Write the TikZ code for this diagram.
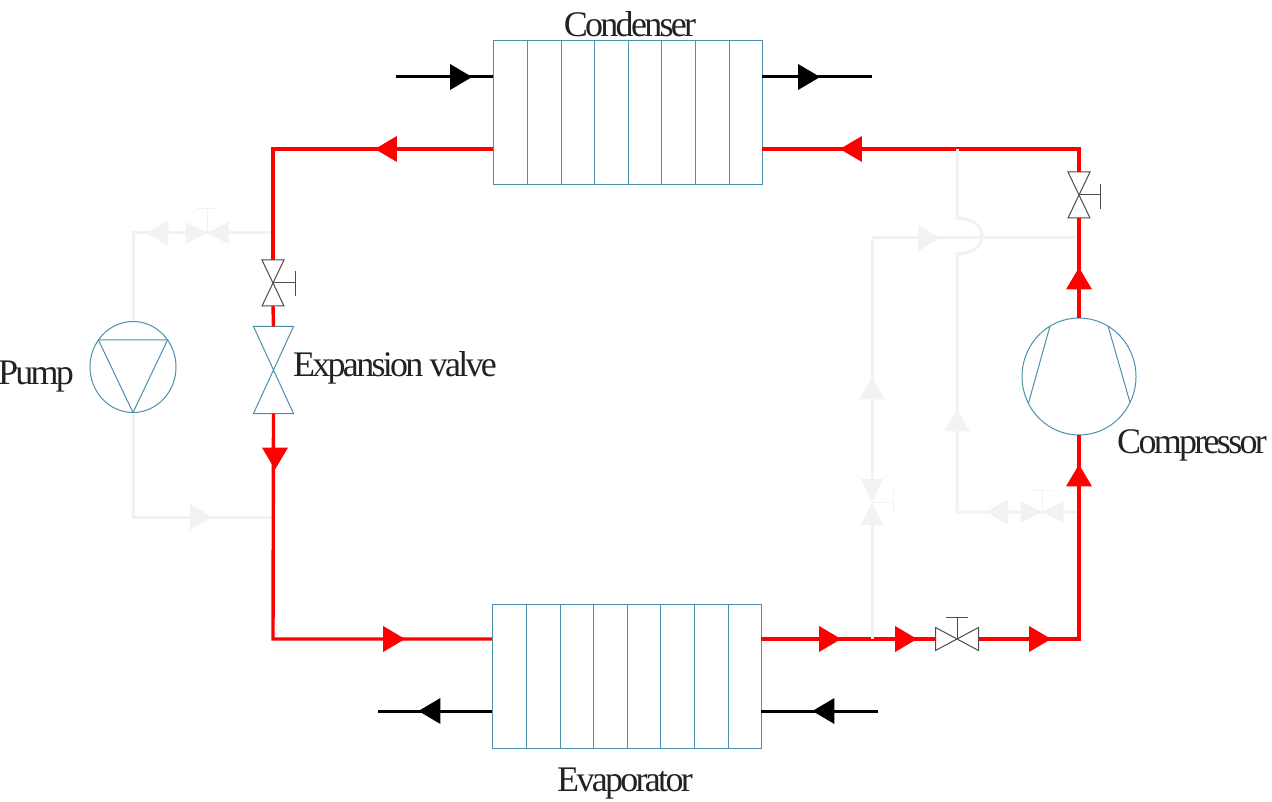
\documentclass[tikz,border=0pt]{standalone}
\usepackage{fontspec}
\setmainfont{Liberation Serif}
\usetikzlibrary{shapes.geometric}
\definecolor{unitcolor}{HTML}{4A90AC}
\definecolor{idlecolor}{HTML}{F2F2F2}
\definecolor{lettercolor}{HTML}{222222}
\tikzset{
	exchanger/.style={
		rectangle,
		draw=unitcolor,
		line width=1pt,
		outer sep=0pt,
		minimum width=269,
		minimum height=144
	},
	machine/.style={
		ellipse,
		draw=unitcolor,
		line width=1pt,
		inner sep=0pt,
		outer sep=0pt
	},
	valvebox/.style={
		rectangle,
		inner sep=0pt,
		outer sep=0pt
	},
	hpipe/.style={
		draw=red,
		line width=3.4pt,
		line join=miter
	},
	kpipe/.style={
		draw=black,
		line width=3pt
	},
	idlepipe/.style={
		draw=idlecolor,
		line width=3pt
	},
	flow/.style={
		isosceles triangle,
		isosceles triangle stretches,
		inner sep=0pt,
		outer sep=0pt,
		minimum height=22,
		minimum width=26,
		fill=#1
	},
	label/.style={
		text=lettercolor,
		font=\fontsize{36}{36}\selectfont\addfontfeature{LetterSpace=-7.5}
	},
}
% bow tie between the corners of a valve box
\newcommand{\bowv}[1]{(#1.north west) -- (#1.south east) -- (#1.south west) -- (#1.north east) -- cycle}
\newcommand{\bowh}[1]{(#1.north west) -- (#1.south east) -- (#1.north east) -- (#1.south west) -- cycle}
\begin{document}
\begin{tikzpicture}[x=1pt,y=-1pt]
	\useasboundingbox (0,0) rectangle (1272,802);

	% units
	\node (condenser) [exchanger] at (627.5,113) {};
	\node (evaporator) [exchanger] at (626.5,676) {};
	\foreach \x in {34,68,101,135,168,202,236} {
		\draw [unitcolor,line width=1pt] ([xshift=\x]condenser.north west) -- ([xshift=\x]condenser.south west);
		\draw [unitcolor,line width=1pt] ([xshift=\x]evaporator.north west) -- ([xshift=\x]evaporator.south west);
	}
	\node (pump) [machine,minimum width=86,minimum height=91] at (133,367) {};
	\draw [unitcolor,line width=1pt] (pump.142) -- (pump.38) -- (pump.south) -- cycle;
	\node (compressor) [machine,minimum width=114,minimum height=117] at (1079,376.5) {};
	\draw [unitcolor,line width=1pt] (compressor.120) -- (compressor.208);
	\draw [unitcolor,line width=1pt] (compressor.60) -- (compressor.-27);
	\node (expansion) [valvebox,minimum width=40,minimum height=87] at (273.5,370) {};
	\draw [unitcolor,line width=1pt] \bowv{expansion};

	% valves
	\node (valveleft) [valvebox,minimum width=22,minimum height=46] at (273,283) {};
	\node (valveright) [valvebox,minimum width=22,minimum height=46] at (1079,195) {};
	\node (valvebottom) [valvebox,minimum width=43,minimum height=23] at (957,639) {};
	\draw [black!70,line width=1pt] \bowv{valveleft};
	\draw [black!70,line width=1pt] \bowv{valveright};
	\draw [black!70,line width=1pt] \bowh{valvebottom};
	\draw [black!70,line width=1pt] (valveleft.center) -- (295,283) (295,271) -- (295,296);
	\draw [black!70,line width=1pt] (valveright.center) -- (1100,195) (1100,184) -- (1100,209);
	\draw [black!70,line width=1pt] (valvebottom.center) -- (957,617) (946,617) -- (968,617);

	% idle branches
	\node (valveidleleft) [valvebox,minimum width=43,minimum height=22] at (207,233) {};
	\node (valveidleup) [valvebox,minimum width=22,minimum height=46] at (872,502) {};
	\node (valveidleright) [valvebox,minimum width=43,minimum height=22] at (1042,512) {};
	\fill [idlecolor] \bowh{valveidleleft};
	\fill [idlecolor] \bowv{valveidleup};
	\fill [idlecolor] \bowh{valveidleright};
	\draw [idlecolor,line width=1pt] (valveidleleft.center) -- (207,209) (197,209) -- (218,209);
	\draw [idlecolor,line width=1pt] (valveidleup.center) -- (893,502) (893,490) -- (893,514);
	\draw [idlecolor,line width=1pt] (valveidleright.center) -- (1042,490) (1031,490) -- (1053,490);

	\coordinate (leftmid) at (273,233);
	\coordinate (leftlow) at (273,517);
	\coordinate (tapout) at (872,639);
	\coordinate (tapup) at (872,238);
	\coordinate (backtop) at (1079,238);
	\coordinate (bypasstop) at (957,149);
	\coordinate (hopin) at (957,218);
	\coordinate (hopout) at (957,254);
	\coordinate (bypasslow) at (957,512);
	\coordinate (bypassend) at (1079,512);

	\draw [idlepipe] (leftmid) -- (valveidleleft.center) -| (pump.north);
	\draw [idlepipe] (pump.south) |- (leftlow);
	\draw [idlepipe] (tapup) -- (backtop);
	\draw [idlepipe] (bypassend) -- (bypasslow) -- (hopout) .. controls (990,254) and (990,218) .. (hopin) -- (bypasstop);

	% refrigerant loop
	\coordinate (condin) at (762,149);
	\coordinate (condout) at (493,149);
	\coordinate (cornerleft) at (273,149);
	\coordinate (cornerright) at (1079,149);
	\coordinate (evapin) at (492,639);
	\coordinate (evapout) at (761,639);
	\coordinate (cornerlow) at (273,639);
	\coordinate (cornerend) at (1079,639);

	\draw [hpipe] (condout) -- (cornerleft) -- (valveleft.north);
	\draw [hpipe] (valveleft.south) -- (expansion.north);
	\draw [hpipe] (expansion.south) -- (cornerlow) -- (evapin);
	\draw [hpipe] (evapout) -- (valvebottom.west);
	\draw [hpipe] (valvebottom.east) -- (cornerend) -- (compressor.south);
	\draw [hpipe] (compressor.north) -- (valveright.south);
	\draw [hpipe] (valveright.north) -- (cornerright) -- (condin);
	\draw [idlepipe] (valveidleup.north) -- (tapup);
	\draw [idlepipe] (tapout) -- (valveidleup.south);
	\draw [idlepipe] (bypasstop) -- ++(0,10);

	% water side
	\coordinate (condwaterin) at (396,77);
	\coordinate (condwaterend) at (872,77);
	\coordinate (evapwaterend) at (378,711);
	\coordinate (evapwaterin) at (878,711);
	\draw [kpipe] (condwaterin) -- (condwaterin -| condenser.west);
	\draw [kpipe] (condenser.east |- condwaterend) -- (condwaterend);
	\draw [kpipe] (evaporator.west |- evapwaterend) -- (evapwaterend);
	\draw [kpipe] (evapwaterin) -- (evaporator.east |- evapwaterin);

	% flow marks
	\node [flow=black,shape border rotate=0] at (457.5,77) {};
	\node [flow=black,shape border rotate=0] at (805.5,77) {};
	\node [flow=black,shape border rotate=180] at (433,711) {};
	\node [flow=black,shape border rotate=180] at (827,711) {};
	\foreach \x/\y/\a in {389.5/149/180,854.5/149/180,275/455/-90,390.5/639/0,826.5/639/0,902.5/639/0,1036.5/639/0,1079/282/90,1079/479/90} {
		\node [flow=red,shape border rotate=\a] at (\x,\y) {};
	}
	\foreach \x/\y/\a in {161/233/180,197.5/517/0,925.5/238/0,872/392/90,957/424/90,1001/512/180} {
		\node [flow=idlecolor,shape border rotate=\a] at (\x,\y) {};
	}

	% labels
	\node (lblcondenser) [label] at (630,24) {Condenser};
	\node (lblevaporator) [label] at (625,784) {Evaporator};
	\node (lblpump) [label] at (36,377) {Pump};
	\node (lblexpansion) [label] at (395,368) {Expansion valve};
	\node (lblcompressor) [label] at (1192,445) {Compressor};
\end{tikzpicture}
\end{document}
